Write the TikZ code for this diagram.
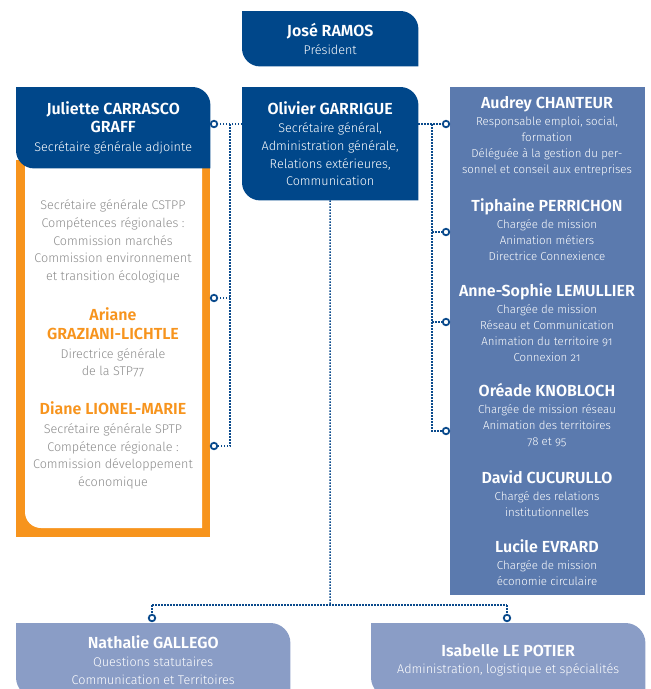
\documentclass[tikz,border=0pt]{standalone}
\usepackage{fontspec}
\setmainfont{Fira Sans}[UprightFont=* Light, BoldFont=* SemiBold, Numbers=OldStyle]
\usepackage{tikz}
\usetikzlibrary{calc,positioning,backgrounds}
\definecolor{navy}{HTML}{00478A}
\definecolor{staffblue}{HTML}{5B7AAE}
\definecolor{paleblue}{HTML}{8A9DC6}
\definecolor{frameorange}{HTML}{F7941D}
\definecolor{greytext}{HTML}{8C8C8C}
\definecolor{linkblue}{HTML}{0A4A8C}
\newcommand{\bodyfont}{\fontsize{12.6}{17.7}\selectfont}
\newcommand{\stafffont}{\fontsize{11.5}{16}\selectfont}
\newcommand{\nm}[1]{{\fontsize{16}{18}\selectfont\bfseries #1}}
\tikzstyle{link} = [linkblue, line width=1.5pt, dash pattern=on 1.5pt off 1.5pt]
\tikzset{
    box/.style = {anchor=north west, inner sep=0pt, align=center, text=white, font=\bodyfont},
    txt/.style = {inner sep=0pt, align=center, font=\bodyfont},
    dot/.style = {draw=linkblue, fill=white, circle, line width=1.8pt, minimum size=6.5pt, inner sep=0pt},
}

\begin{document}
\begin{tikzpicture}[x=1pt, y=1pt]
    \useasboundingbox (0,0) rectangle (651,-689);

    \node [box, minimum width=176pt, minimum height=55pt] (ramos) at (242,-11) {\nm{José RAMOS}\\Président};
    \node [box, minimum width=194pt, minimum height=81pt] (carrasco) at (16,-87) {\nm{Juliette CARRASCO}\\[1pt]\nm{GRAFF}\\[1pt]Secrétaire générale adjointe};
    \node [box, minimum width=176pt, minimum height=113pt] (garrigue) at (242,-87) {\nm{Olivier GARRIGUE}\\[1pt]Secrétaire général,\\Administration générale,\\Relations extérieures,\\Communication};
    \node [box, minimum width=195pt, minimum height=508pt, fill=staffblue] (staff) at (450,-87) {};
    \node [box, minimum width=274pt, minimum height=74pt] (gallego) at (16,-623) {\nm{Nathalie GALLEGO}\\Questions statutaires\\Communication et Territoires};
    \node [box, minimum width=274pt, minimum height=74pt] (lepotier) at (371,-623) {\nm{Isabelle LE POTIER}\\Administration, logistique et spécialités};

    \node [txt, text=greytext] (cstpp) at (113,-241.5) {Secrétaire générale CSTPP\\Compétences régionales :\\Commission marchés\\Commission environnement\\et transition écologique};
    \node [txt, text=greytext] (graziani) at (113,-342.5) {\textcolor{frameorange}{\nm{Ariane}}\\[1pt]\textcolor{frameorange}{\nm{GRAZIANI-LICHTLE}}\\[1pt]Directrice générale\\de la STP77};
    \node [txt, text=greytext] (lionel) at (113,-445.5) {\textcolor{frameorange}{\nm{Diane LIONEL-MARIE}}\\[1pt]Secrétaire générale SPTP\\Compétence régionale :\\Commission développement\\économique};

    \node [txt, text=white, font=\stafffont] (chanteur) at (547,-136.5) {\nm{Audrey CHANTEUR}\\[1pt]Responsable emploi, social,\\formation\\Déléguée à la gestion du per-\\sonnel et conseil aux entreprises};
    \node [txt, text=white, font=\stafffont] (perrichon) at (547,-230) {\nm{Tiphaine PERRICHON}\\[1pt]Chargée de mission\\Animation métiers\\Directrice Connexience};
    \node [txt, text=white, font=\stafffont] (lemullier) at (547,-323) {\nm{Anne-Sophie LEMULLIER}\\[1pt]Chargée de mission\\Réseau et Communication\\Animation du territoire 91\\Connexion 21};
    \node [txt, text=white, font=\stafffont] (knobloch) at (547,-415.5) {\nm{Oréade KNOBLOCH}\\[1pt]Chargée de mission réseau\\Animation des territoires\\78 et 95};
    \node [txt, text=white, font=\stafffont] (cucurullo) at (547,-493.5) {\nm{David CUCURULLO}\\[1pt]Chargé des relations\\institutionnelles};
    \node [txt, text=white, font=\stafffont] (evrard) at (547,-562.5) {\nm{Lucile EVRARD}\\[1pt]Chargée de mission\\économie circulaire};

    \begin{scope}[on background layer]
        \fill [frameorange] (16,-160) rectangle (210,-537);
        \fill [white] (25,-160) -- (202,-160) -- (202,-528) -- (41,-528) arc[start angle=270, end angle=180, radius=16pt] -- cycle;
        \foreach \n/\c/\r in {ramos/navy/18pt, carrasco/navy/18pt, garrigue/navy/18pt, gallego/paleblue/20pt, lepotier/paleblue/20pt}
            \fill [\c] (\n.north west) -- ([xshift=-\r]\n.north east) arc[start angle=90, end angle=0, radius=\r] -- (\n.south east) -- ([xshift=\r]\n.south west) arc[start angle=270, end angle=180, radius=\r] -- cycle;
    \end{scope}

    \node [dot] (l1) at (214,-124) {};
    \node [dot] (l2) at (214,-298) {};
    \node [dot] (l3) at (214,-446) {};
    \coordinate (lj) at (230,-124);
    \draw [link] (garrigue.west |- l1) -- (l1.east);
    \draw [link] (lj) -- (lj |- l3) -- (l3.east);
    \draw [link] (lj |- l2) -- (l2.east);

    \node [dot] (r1) at (446,-124) {};
    \node [dot] (r2) at (446,-232) {};
    \node [dot] (r3) at (446,-322) {};
    \node [dot] (r4) at (446,-431) {};
    \coordinate (rj) at (432,-124);
    \draw [link] (garrigue.east |- r1) -- (r1.west);
    \draw [link] (rj) -- (rj |- r4) -- (r4.west);
    \foreach \i in {2,3}
        \draw [link] (rj |- r\i) -- (r\i.west);

    \node [dot] (b1) at (152,-618) {};
    \node [dot] (b2) at (507,-618) {};
    \coordinate (bj) at (330,-605);
    \draw [link] (garrigue.south) -- (bj);
    \draw [link] (b1.north |- bj) -- (b2.north |- bj);
    \draw [link] (b1.north |- bj) -- (b1.north);
    \draw [link] (b2.north |- bj) -- (b2.north);
\end{tikzpicture}
\end{document}
